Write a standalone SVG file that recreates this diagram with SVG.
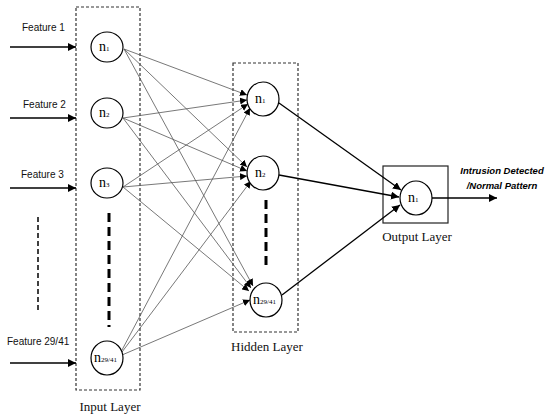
<svg xmlns="http://www.w3.org/2000/svg" width="550" height="420" viewBox="0 0 550 420">
<style>
.node{fill:#fff;stroke:#000;stroke-width:1.2}
.lbl{font-family:"Liberation Serif",serif;font-size:14px;fill:#000}
.sub{font-size:7px}
.feat{font-family:"Liberation Sans",Arial,sans-serif;font-size:10px;fill:#111}
.layer{font-family:"Liberation Serif",serif;font-size:13px;fill:#111}
.box{fill:none;stroke:#333;stroke-width:1.2;stroke-dasharray:3,2}
.thin{stroke:#555;stroke-width:0.8;fill:none;marker-end:url(#sa)}
.thick{stroke:#000;stroke-width:1.3;fill:none;marker-end:url(#la)}
.dash{stroke:#000;stroke-width:3;stroke-dasharray:9,5}
</style>
<defs>
<marker id="sa" viewBox="0 0 10 10" refX="10" refY="5" markerWidth="7" markerHeight="7" orient="auto" markerUnits="userSpaceOnUse"><path d="M0,0L10,5L0,10z" fill="#000"/></marker>
<marker id="la" viewBox="0 0 10 10" refX="10" refY="5" markerWidth="8" markerHeight="8" orient="auto" markerUnits="userSpaceOnUse"><path d="M0,0L10,5L0,10z" fill="#000"/></marker>
</defs>
<rect width="550" height="420" fill="#fff"/>
<g id="frames">
<rect class="box" x="76" y="7" width="64" height="383"/>
<rect class="box" x="233" y="63" width="65" height="269"/>
<rect x="383" y="166" width="65" height="57" fill="none" stroke="#222" stroke-width="1.2"/>
<line class="dash" x1="109" y1="213" x2="109" y2="327"/>
<line class="dash" x1="266" y1="200" x2="266" y2="270"/>
<line x1="38" y1="217" x2="38" y2="310" stroke="#000" stroke-width="1.5" stroke-dasharray="5,3"/>
</g>
<g id="connectors">
<line class="thick" x1="10" y1="47" x2="76" y2="47"/>
<line class="thick" x1="10" y1="118" x2="76" y2="118"/>
<line class="thick" x1="10" y1="188" x2="76" y2="188"/>
<line class="thick" x1="10" y1="363" x2="76" y2="363"/>
<line class="thin" x1="124" y1="49" x2="247" y2="95"/>
<line class="thin" x1="124" y1="49" x2="247" y2="167"/>
<line class="thin" x1="124" y1="49" x2="253" y2="286"/>
<line class="thin" x1="123" y1="118" x2="247" y2="100"/>
<line class="thin" x1="123" y1="118" x2="247" y2="171"/>
<line class="thin" x1="123" y1="118" x2="251" y2="288"/>
<line class="thin" x1="123" y1="187" x2="248" y2="104"/>
<line class="thin" x1="123" y1="187" x2="247" y2="176"/>
<line class="thin" x1="123" y1="187" x2="249" y2="291"/>
<line class="thin" x1="122" y1="350" x2="250" y2="108"/>
<line class="thin" x1="122" y1="352" x2="251" y2="181"/>
<line class="thin" x1="122" y1="355" x2="250" y2="300"/>
<line class="thick" x1="279" y1="103" x2="401" y2="190"/>
<line class="thick" x1="279" y1="175" x2="399" y2="197"/>
<line class="thick" x1="282" y1="295" x2="400" y2="205"/>
<line class="thick" x1="432" y1="198" x2="497" y2="198"/>
</g>
<g id="features">
<text class="feat" x="22" y="31">Feature 1</text>
<text class="feat" x="23" y="108">Feature 2</text>
<text class="feat" x="21" y="178">Feature 3</text>
<text class="feat" x="7" y="345">Feature 29/41</text>
</g>
<g id="in1"><ellipse class="node" cx="107" cy="47" rx="16" ry="15"/><text class="lbl" x="99" y="51">n<tspan class="sub">1</tspan></text></g>
<g id="in2"><ellipse class="node" cx="107" cy="113" rx="16" ry="15"/><text class="lbl" x="99" y="117">n<tspan class="sub">2</tspan></text></g>
<g id="in3"><ellipse class="node" cx="107" cy="183" rx="16" ry="15"/><text class="lbl" x="99" y="187">n<tspan class="sub">3</tspan></text></g>
<g id="in4"><ellipse class="node" cx="107" cy="358" rx="16" ry="17"/><text class="lbl" x="94" y="362" font-size="12">n<tspan class="sub">29/41</tspan></text></g>
<g id="h1"><ellipse class="node" cx="263" cy="99" rx="16" ry="17"/><text class="lbl" x="255" y="103">n<tspan class="sub">1</tspan></text></g>
<g id="h2"><ellipse class="node" cx="263" cy="173" rx="16" ry="17"/><text class="lbl" x="255" y="177">n<tspan class="sub">2</tspan></text></g>
<g id="h3"><ellipse class="node" cx="266" cy="300" rx="16" ry="17"/><text class="lbl" x="253" y="304" font-size="13">n<tspan class="sub">29/41</tspan></text></g>
<g id="out"><ellipse class="node" cx="416" cy="198" rx="16" ry="17"/><text class="lbl" x="408" y="202">n<tspan class="sub">1</tspan></text></g>
<g id="labels">
<text class="layer" x="110" y="411" text-anchor="middle">Input Layer</text>
<text class="layer" x="267" y="351" text-anchor="middle">Hidden Layer</text>
<text class="layer" x="417" y="241" text-anchor="middle">Output Layer</text>
<text x="502" y="174" text-anchor="middle" font-family="Liberation Sans,Arial,sans-serif" font-size="9.5" font-weight="bold" font-style="italic">Intrusion Detected</text>
<text x="502" y="189" text-anchor="middle" font-family="Liberation Sans,Arial,sans-serif" font-size="9.5" font-weight="bold" font-style="italic">/Normal Pattern</text>
</g>
</svg>
